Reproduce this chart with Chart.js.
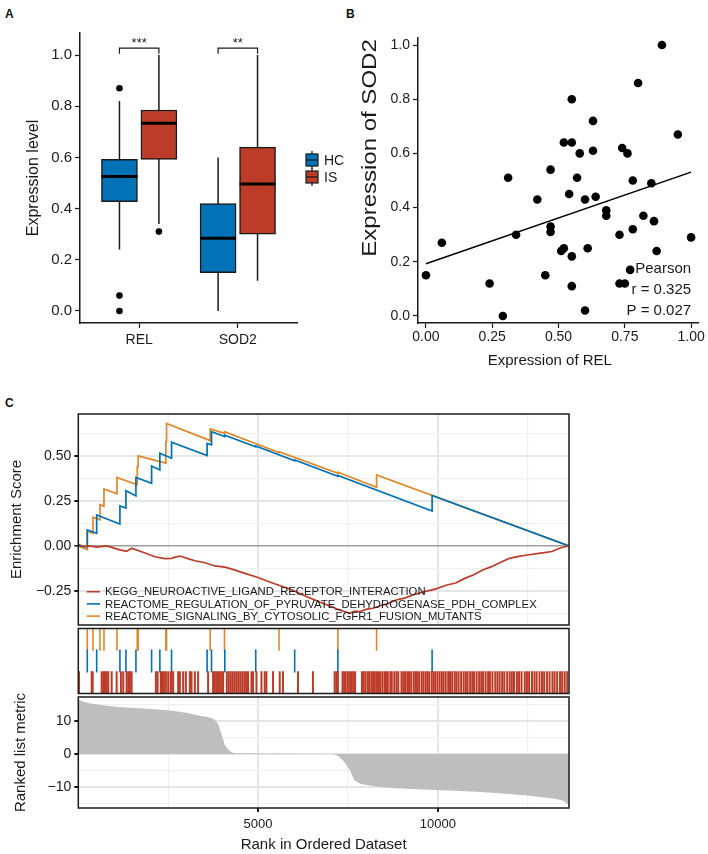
<!DOCTYPE html>
<html>
<head>
<meta charset="utf-8">
<script src="https://cdn.jsdelivr.net/npm/chart.js@4.4.1/dist/chart.umd.min.js"></script>
<style>
  body { margin: 0; background: #fff; width: 708px; height: 854px; position: relative; overflow: hidden;
         font-family: "Liberation Sans", Arial, Helvetica, sans-serif; }
  canvas { position: absolute; }
  .lab { position: absolute; font-weight: bold; font-size: 12px; line-height: 12px; color: #111; }
</style>
</head>
<body>
<div class="lab" style="left:5px;top:8px">A</div>
<div class="lab" style="left:346px;top:8px">B</div>
<div class="lab" style="left:5px;top:397px">C</div>

<canvas id="boxA" width="350" height="370" style="left:0;top:0"></canvas>
<canvas id="scatB" width="358" height="370" style="left:350px;top:0"></canvas>
<canvas id="esC" width="708" height="226" style="left:0;top:400px"></canvas>
<canvas id="hitC" width="708" height="92" style="left:0;top:615px"></canvas>
<canvas id="rankC" width="708" height="167" style="left:0;top:687px"></canvas>

<script>
// ---------- panel A : boxplots ----------
const genes = ['REL', 'SOD2'];
const groups = ['HC', 'IS'];
const hcLow  = [0.24, 0.0];
const hcQ1   = [0.427, 0.15];
const hcMed  = [0.525, 0.284];
const hcQ3   = [0.592, 0.42];
const hcHigh = [0.82, 0.6];
const isLow  = [0.34, 0.118];
const isQ1   = [0.592, 0.30];
const isMed  = [0.733, 0.496];
const isQ3   = [0.785, 0.64];
const isHigh = [1.0, 1.0];
const hcOutliers = [[0.87, 0.06, 0.0], []];
const isOutliers = [[0.31], []];
const sigLabels = ['***', '**'];
const yTicksA = [0, 0.2, 0.4, 0.6, 0.8, 1.0];

// ---------- panel B : scatter ----------
const relExpr = [0.00, 0.06, 0.24, 0.29, 0.31, 0.34, 0.42, 0.45, 0.47, 0.47, 0.47, 0.51, 0.52, 0.52, 0.55,
  0.55, 0.54, 0.55, 0.55, 0.57, 0.58, 0.60, 0.60, 0.61, 0.63, 0.63, 0.64, 0.68, 0.68, 0.73, 0.73, 0.75,
  0.74, 0.76, 0.77, 0.78, 0.78, 0.80, 0.82, 0.85, 0.86, 0.87, 0.89, 0.95, 1.00];
const sod2Expr = [0.15, 0.27, 0.12, 0.00, 0.51, 0.30, 0.43, 0.15, 0.54, 0.33, 0.31, 0.24, 0.25, 0.64, 0.64,
  0.80, 0.45, 0.22, 0.11, 0.51, 0.60, 0.43, 0.02, 0.25, 0.72, 0.61, 0.44, 0.39, 0.37, 0.30, 0.12, 0.12,
  0.62, 0.60, 0.17, 0.50, 0.32, 0.86, 0.37, 0.49, 0.35, 0.24, 1.00, 0.67, 0.29];
const fitX = [0, 1];
const fitY = [0.193, 0.531];
const statText = ['Pearson', 'r = 0.325', 'P = 0.027'];
const xTicksB = [0, 0.25, 0.5, 0.75, 1.0];
const yTicksB = [0, 0.2, 0.4, 0.6, 0.8, 1.0];

// ---------- panel C : GSEA ----------
const nGenes = 13650;
const setNames = ['KEGG_NEUROACTIVE_LIGAND_RECEPTOR_INTERACTION',
  'REACTOME_REGULATION_OF_PYRUVATE_DEHYDROGENASE_PDH_COMPLEX',
  'REACTOME_SIGNALING_BY_CYTOSOLIC_FGFR1_FUSION_MUTANTS'];
const keggRank = [0, 150, 278, 520, 789, 1000, 1158, 1344, 1483, 1800, 2131, 2408, 2594, 2700, 2825, 3050, 3242,
  3500, 3797, 4075, 4300, 4631, 5000, 5417, 5900, 6344, 6800, 7269, 7547, 7700, 7825, 8000, 8194, 8472, 8600,
  8844, 9100, 9306, 9631, 9950, 10253, 10500, 10750, 11000, 11247, 11492, 11750, 11992, 12250, 12492, 12864,
  13175, 13422, 13650];
const keggES = [0.01, -0.004, 0.0, -0.006, 0.0, -0.012, -0.022, -0.03, -0.013, -0.035, -0.06, -0.07, -0.069,
  -0.062, -0.056, -0.07, -0.082, -0.092, -0.111, -0.118, -0.13, -0.152, -0.175, -0.207, -0.24, -0.281, -0.318,
  -0.356, -0.374, -0.362, -0.365, -0.352, -0.346, -0.328, -0.322, -0.30, -0.288, -0.272, -0.254, -0.238,
  -0.217, -0.206, -0.18, -0.16, -0.133, -0.115, -0.09, -0.069, -0.058, -0.05, -0.04, -0.031, -0.01, 0.0];
const pdhHits = [250, 511, 1158, 1325, 1603, 2039, 2269, 2594, 3583, 3706, 4075, 4936, 6019, 7222, 9842];
const pdhBefore = [-0.005, 0.07, 0.122, 0.21, 0.278, 0.348, 0.422, 0.487, 0.502, 0.562, 0.608, 0.551, 0.473, 0.387, 0.194];
const pdhAfter = [0.089, 0.172, 0.222, 0.307, 0.38, 0.444, 0.515, 0.576, 0.57, 0.635, 0.615, 0.556, 0.478, 0.392, 0.28];
const fgfrHits = [250, 408, 603, 714, 1075, 1640, 1665, 2436, 2455, 3669, 4067, 5583, 7222, 8297];
const fgfrBefore = [-0.02, 0.07, 0.145, 0.22, 0.29, 0.34, 0.44, 0.46, 0.58, 0.585, 0.626, 0.519, 0.404, 0.326];
const fgfrAfter = [0.08, 0.16, 0.23, 0.317, 0.38, 0.44, 0.50, 0.58, 0.68, 0.65, 0.635, 0.523, 0.41, 0.394];
const keggHits = [20, 372, 400, 650, 694, 742, 789, 833, 928, 1067, 1186, 1250, 1344, 1389, 1436, 1483,
  2158, 2206, 2297, 2333, 2381, 2436, 2500, 2567, 2594, 2639, 2778, 2825, 2917, 2992, 3103, 3150, 3242, 3333,
  3611, 3750, 3797, 3844, 3889, 3936, 3983, 4028, 4131, 4186, 4242, 4297, 4353, 4408, 4464, 4519, 4575, 4631,
  4678, 4722, 4817, 4861, 4956, 5095, 5186, 5233, 5417, 5603, 5694, 6111, 6528, 7131, 7178, 7222,
  7350, 7395, 7440, 7500, 7560, 7610, 7660, 7700, 7890, 7940, 7990, 8050, 8090, 8150, 8200, 8250, 8310, 8360,
  8400, 8460, 8520, 8560, 8610, 8680, 8720, 8790, 8850, 8900, 8990, 9040, 9090, 9150, 9200, 9260, 9330, 9380,
  9420, 9480, 9550, 9600, 9660, 9710, 9760, 9830, 9880, 9930, 9990, 10050, 10110, 10160, 10220, 10290, 10340,
  10400, 10470, 10520, 10580, 10650, 10720, 10780, 10830, 10900, 10960, 11010, 11080, 11150, 11210, 11260,
  11330, 11400, 11450, 11520, 11600, 11660, 11720, 11790, 11850, 11930, 12000, 12060, 12120, 12200, 12260,
  12330, 12420, 12480, 12540, 12620, 12690, 12750, 12830, 12900, 12960, 13040, 13110, 13190, 13250, 13320,
  13400, 13460, 13530, 13600];
const metricRank = [0, 100, 350, 700, 1110, 1800, 2500, 3000, 3380, 3600, 3760, 3890, 3975, 4030, 4075, 4200,
  4325, 7100, 7250, 7350, 7450, 7550, 7670, 7800, 7925, 8300, 8810, 9600, 10450, 11100, 11710, 12400, 12980,
  13300, 13480, 13600, 13650];
const metricValue = [16.6, 16.0, 15.3, 14.8, 14.3, 13.8, 13.3, 12.5, 11.6, 11.2, 10.7, 9.2, 6.2, 4.5, 2.7, 1.0,
  0.2, 0, -0.8, -1.8, -3.2, -4.8, -7.8, -8.8, -9.3, -9.9, -10.4, -10.8, -11.2, -11.5, -11.9, -12.5, -13.2,
  -13.7, -14.2, -15.0, -15.9];
const rankTicks = [2500, 5000, 7500, 10000, 12500];
const rankMajor = [5000, 10000];
const esTicks = [-0.375, -0.25, -0.125, 0, 0.125, 0.25, 0.375, 0.5, 0.625];
const esMajor = [-0.25, 0, 0.25, 0.5];
const metricTicks = [-15, -10, -5, 0, 5, 10, 15];
const metricMajor = [-10, 0, 10];

const RED = '#BC3C29', BLUE = '#0072B5', ORANGE = '#E18727', INK = '#1a1a1a';
const FONT = '"Liberation Sans", Arial, sans-serif';

Chart.defaults.font.family = '"Liberation Sans", Arial, Helvetica, sans-serif';
Chart.defaults.color = INK;
Chart.defaults.animation = false;
Chart.defaults.responsive = false;
Chart.defaults.plugins.legend.display = false;
Chart.defaults.plugins.tooltip.enabled = false;

const fmt = (v, d) => (v < 0 ? '\u2212' : '') + Math.abs(v).toFixed(d);
const setTicks = vals => axis => { axis.ticks = vals.map(v => ({ value: v })); };
// fixed axis size, no extra label padding eating into the plot area
const fixW = w => a => { a.width = w; a.paddingTop = 0; a.paddingBottom = 0; };
const fixH = h => a => { a.height = h; a.paddingLeft = 0; a.paddingRight = 0; };

// ===== A =====
const dodge = 0.2;
const boxExtras = {
  id: 'boxExtras',
  beforeDatasetsDraw(chart) {
    const { ctx, scales: { y } } = chart;
    chart.data.datasets.forEach((ds, di) => {
      if (!ds.stats) return;
      chart.getDatasetMeta(di).data.forEach((bar, i) => {
        ctx.save();
        ctx.strokeStyle = INK; ctx.lineWidth = 1.5;
        ctx.beginPath();
        ctx.moveTo(bar.x, y.getPixelForValue(ds.stats.low[i]));
        ctx.lineTo(bar.x, y.getPixelForValue(ds.stats.high[i]));
        ctx.stroke();
        ctx.restore();
      });
    });
  },
  afterDatasetsDraw(chart) {
    const { ctx, scales: { x, y } } = chart;
    chart.data.datasets.forEach((ds, di) => {
      if (!ds.stats) return;
      chart.getDatasetMeta(di).data.forEach((bar, i) => {
        const py = y.getPixelForValue(ds.stats.med[i]);
        ctx.save();
        ctx.strokeStyle = '#000'; ctx.lineWidth = 3;
        ctx.beginPath();
        ctx.moveTo(bar.x - bar.width / 2, py);
        ctx.lineTo(bar.x + bar.width / 2, py);
        ctx.stroke();
        ctx.restore();
      });
    });
    // significance brackets
    ctx.save();
    ctx.strokeStyle = INK; ctx.lineWidth = 1.2; ctx.fillStyle = INK;
    ctx.font = '13px ' + FONT;
    ctx.textAlign = 'center'; ctx.textBaseline = 'bottom';
    genes.forEach((g, i) => {
      const x1 = x.getPixelForValue(i + 1 - dodge), x2 = x.getPixelForValue(i + 1 + dodge);
      const yt = y.getPixelForValue(1.027), yb = y.getPixelForValue(1.005);
      ctx.beginPath();
      ctx.moveTo(x1, yb); ctx.lineTo(x1, yt); ctx.lineTo(x2, yt); ctx.lineTo(x2, yb);
      ctx.stroke();
      ctx.fillText(sigLabels[i], (x1 + x2) / 2, yt + 2);
    });
    // legend
    const a = chart.chartArea;
    [BLUE, RED].forEach((col, k) => {
      const cx = a.right + 15, cy = 160 + k * 17;
      ctx.beginPath();
      ctx.moveTo(cx, cy - 9); ctx.lineTo(cx, cy + 9); ctx.stroke();
      ctx.fillStyle = col;
      ctx.fillRect(cx - 6, cy - 6, 12, 12);
      ctx.strokeRect(cx - 6, cy - 6, 12, 12);
      ctx.beginPath(); ctx.moveTo(cx - 6, cy); ctx.lineTo(cx + 6, cy); ctx.stroke();
      ctx.fillStyle = INK;
      ctx.font = '14px ' + FONT;
      ctx.textAlign = 'left'; ctx.textBaseline = 'middle';
      ctx.fillText(groups[k], cx + 12, cy + 1);
    });
    ctx.restore();
  }
};

const outlierPts = [];
genes.forEach((g, i) => {
  hcOutliers[i].forEach(v => outlierPts.push({ x: i + 1 - dodge, y: v }));
  isOutliers[i].forEach(v => outlierPts.push({ x: i + 1 + dodge, y: v }));
});

new Chart(document.getElementById('boxA'), {
  type: 'bar',
  data: {
    datasets: [
      { label: 'HC', data: genes.map((g, i) => ({ x: i + 1 - dodge, y: [hcQ1[i], hcQ3[i]] })),
        stats: { low: hcLow, med: hcMed, high: hcHigh },
        backgroundColor: BLUE, borderColor: INK, borderWidth: 1.5, borderSkipped: false,
        barThickness: 36, grouped: false },
      { label: 'IS', data: genes.map((g, i) => ({ x: i + 1 + dodge, y: [isQ1[i], isQ3[i]] })),
        stats: { low: isLow, med: isMed, high: isHigh },
        backgroundColor: RED, borderColor: INK, borderWidth: 1.5, borderSkipped: false,
        barThickness: 36, grouped: false },
      { type: 'scatter', label: 'outliers', data: outlierPts, pointRadius: 3.3,
        backgroundColor: '#000', borderWidth: 0 }
    ]
  },
  options: {
    layout: { padding: { left: 20, right: 53, top: 33, bottom: 17 } },
    scales: {
      x: { type: 'linear', offset: false, min: 0.4, max: 2.6, afterBuildTicks: setTicks([1, 2]),
           afterFit: fixH(30),
           ticks: { callback: v => genes[Math.round(v) - 1], font: { size: 14 }, padding: 4, autoSkip: false },
           grid: { drawOnChartArea: false, offset: false, tickLength: 5, tickColor: INK, tickWidth: 1.2 },
           border: { color: INK, width: 1.5 } },
      y: { min: -0.047, max: 1.086, afterBuildTicks: setTicks(yTicksA),
           afterFit: fixW(60),
           ticks: { callback: v => v.toFixed(1), font: { size: 15 }, padding: 3, autoSkip: false },
           grid: { drawOnChartArea: false, tickLength: 5, tickColor: INK, tickWidth: 1.2 },
           border: { color: INK, width: 1.5 },
           title: { display: true, text: 'Expression level', font: { size: 16 }, padding: { top: 4, bottom: 0 } } }
    }
  },
  plugins: [boxExtras]
});

// ===== B =====
const bExtras = {
  id: 'bExtras',
  afterDraw(chart) {
    const { ctx, scales: { x, y } } = chart;
    ctx.save();
    ctx.fillStyle = INK;
    ctx.font = '15px ' + FONT;
    ctx.textAlign = 'right'; ctx.textBaseline = 'middle';
    [0.173, 0.096, 0.018].forEach((yy, i) => {
      ctx.fillText(statText[i], x.getPixelForValue(1.0), y.getPixelForValue(yy));
    });
    // axis titles
    ctx.textAlign = 'center';
    ctx.fillText('Expression of REL', x.getPixelForValue(0.467), 361);
    ctx.translate(20, y.getPixelForValue(0.62));
    ctx.rotate(-Math.PI / 2);
    ctx.scale(1.2, 1);
    ctx.font = '20px ' + FONT;
    ctx.fillText('Expression of SOD2', 0, 0);
    ctx.restore();
  }
};

new Chart(document.getElementById('scatB'), {
  type: 'scatter',
  data: {
    datasets: [
      { label: 'samples', data: relExpr.map((v, i) => ({ x: v, y: sod2Expr[i] })),
        pointRadius: 4.3, backgroundColor: '#000', borderWidth: 0 },
      { type: 'line', label: 'fit', data: fitX.map((v, i) => ({ x: v, y: fitY[i] })),
        borderColor: '#000', borderWidth: 1.5, pointRadius: 0, fill: false }
    ]
  },
  options: {
    layout: { padding: { left: 6, right: 10, top: 38, bottom: 0 } },
    scales: {
      x: { type: 'linear', min: -0.030, max: 1.026, afterBuildTicks: setTicks(xTicksB),
           afterFit: fixH(47),
           ticks: { callback: v => v.toFixed(2), font: { size: 14 }, padding: 1, autoSkip: false },
           grid: { drawOnChartArea: false, tickLength: 5, tickColor: INK, tickWidth: 1.2 },
           border: { color: INK, width: 1.5 } },
      y: { min: -0.026, max: 1.026, afterBuildTicks: setTicks(yTicksB),
           afterFit: fixW(62),
           ticks: { callback: v => v.toFixed(1), font: { size: 14 }, padding: 3, autoSkip: false },
           grid: { drawOnChartArea: false, tickLength: 5, tickColor: INK, tickWidth: 1.2 },
           border: { color: INK, width: 1.5 } }
    }
  },
  plugins: [bExtras]
});

// ===== C =====
const framePlugin = {
  id: 'frame',
  afterDraw(chart) {
    const { ctx, chartArea: a } = chart;
    ctx.save();
    ctx.strokeStyle = INK; ctx.lineWidth = 1.5;
    ctx.strokeRect(a.left, a.top, a.right - a.left, a.bottom - a.top);
    ctx.restore();
  }
};
const esLegend = {
  id: 'esLegend',
  afterDraw(chart) {
    const { ctx, chartArea: a } = chart;
    ctx.save();
    ctx.font = '11.3px ' + FONT;
    ctx.textAlign = 'left'; ctx.textBaseline = 'middle';
    chart.data.datasets.forEach((ds, i) => {
      const yy = a.bottom - 33.3 + i * 12.2;
      ctx.strokeStyle = ds.borderColor; ctx.lineWidth = 1.6;
      ctx.beginPath(); ctx.moveTo(a.left + 8.4, yy); ctx.lineTo(a.left + 21.7, yy); ctx.stroke();
      ctx.fillStyle = INK;
      ctx.fillText(ds.label, a.left + 26.7, yy + 0.5);
    });
    ctx.restore();
  }
};

function stepCurve(hits, before, after) {
  const pts = [{ x: 0, y: 0 }];
  hits.forEach((r, i) => { pts.push({ x: r, y: before[i] }); pts.push({ x: r, y: after[i] }); });
  pts.push({ x: nGenes, y: 0 });
  return pts;
}
const rankGridColor = c => rankMajor.includes(c.tick.value) ? '#E6E6E6' : '#F1F1F1';
const rankGridWidth = c => rankMajor.includes(c.tick.value) ? 2 : 1.2;

new Chart(document.getElementById('esC'), {
  type: 'line',
  data: {
    datasets: [
      { label: setNames[0], data: keggRank.map((r, i) => ({ x: r, y: keggES[i] })), borderColor: RED },
      { label: setNames[1], data: stepCurve(pdhHits, pdhBefore, pdhAfter), borderColor: BLUE },
      { label: setNames[2], data: stepCurve(fgfrHits, fgfrBefore, fgfrAfter), borderColor: ORANGE }
    ]
  },
  options: {
    elements: { line: { borderWidth: 1.7, tension: 0 }, point: { radius: 0 } },
    layout: { padding: { left: 0, right: 139, top: 14, bottom: 1 } },
    scales: {
      x: { type: 'linear', min: 0, max: nGenes, afterBuildTicks: setTicks(rankTicks),
           afterFit: fixH(0),
           ticks: { display: false, autoSkip: false },
           grid: { drawTicks: false, color: rankGridColor, lineWidth: rankGridWidth },
           border: { display: false } },
      y: { min: -0.439, max: 0.733, afterBuildTicks: setTicks(esTicks),
           afterFit: fixW(78.3),
           ticks: { callback: v => esMajor.includes(v) ? fmt(v, 2) : '', font: { size: 14 }, padding: 3, autoSkip: false },
           grid: { tickLength: 4,
                   tickColor: c => esMajor.includes(c.tick.value) ? INK : 'rgba(0,0,0,0)',
                   color: c => c.tick.value === 0 ? '#9E9E9E' : (esMajor.includes(c.tick.value) ? '#E6E6E6' : '#F1F1F1'),
                   lineWidth: c => c.tick.value === 0 ? 1.6 : (esMajor.includes(c.tick.value) ? 2 : 1.2) },
           border: { display: false },
           title: { display: true, text: 'Enrichment Score', font: { size: 15 }, padding: { top: 8, bottom: 0 } } }
    }
  },
  plugins: [framePlugin, esLegend]
});

const hitRows = [
  { hits: keggHits, row: 0.5, color: RED, width: 2 },
  { hits: pdhHits, row: 1.5, color: BLUE, width: 1.6 },
  { hits: fgfrHits, row: 2.5, color: ORANGE, width: 1.6 }
];
new Chart(document.getElementById('hitC'), {
  type: 'scatter',
  data: {
    datasets: hitRows.map((h, i) => ({
      label: setNames[i],
      data: h.hits.map(r => ({ x: r, y: h.row })),
      pointStyle: 'line', pointRotation: 90, pointRadius: 11.5,
      pointBorderColor: h.color, borderColor: h.color, pointBorderWidth: h.width, borderWidth: h.width
    }))
  },
  options: {
    layout: { padding: { left: 78.3, right: 139, top: 10, bottom: 10 } },
    scales: {
      x: { type: 'linear', display: false, min: 0, max: nGenes },
      y: { display: false, min: 0, max: 3 }
    }
  },
  plugins: [framePlugin]
});

new Chart(document.getElementById('rankC'), {
  type: 'line',
  data: {
    datasets: [{ label: 'metric', data: metricRank.map((r, i) => ({ x: r, y: metricValue[i] })),
      fill: 'origin', backgroundColor: '#BEBEBE', borderColor: 'rgba(0,0,0,0)', borderWidth: 0,
      pointRadius: 0, tension: 0 }]
  },
  options: {
    layout: { padding: { left: 0, right: 139, top: 10, bottom: 0 } },
    scales: {
      x: { type: 'linear', min: 0, max: nGenes, afterBuildTicks: setTicks(rankTicks),
           afterFit: fixH(46),
           ticks: { callback: v => rankMajor.includes(v) ? String(v) : '', font: { size: 13 }, padding: 5,
                    maxRotation: 0, autoSkip: false },
           grid: { tickLength: 4, color: rankGridColor, lineWidth: rankGridWidth,
                   tickColor: c => rankMajor.includes(c.tick.value) ? INK : 'rgba(0,0,0,0)' },
           border: { display: false },
           title: { display: true, text: 'Rank in Ordered Dataset', font: { size: 15 }, padding: { top: 0, bottom: 0 } } },
      y: { min: -16.4, max: 17.3, afterBuildTicks: setTicks(metricTicks),
           afterFit: fixW(78.3),
           ticks: { callback: v => metricMajor.includes(v) ? fmt(v, 0) : '', font: { size: 14 }, padding: 3, autoSkip: false },
           grid: { tickLength: 4,
                   tickColor: c => metricMajor.includes(c.tick.value) ? INK : 'rgba(0,0,0,0)',
                   color: c => metricMajor.includes(c.tick.value) ? '#E6E6E6' : '#F1F1F1',
                   lineWidth: c => metricMajor.includes(c.tick.value) ? 2 : 1.2 },
           border: { display: false },
           title: { display: true, text: 'Ranked list metric', font: { size: 15 }, padding: { top: 12, bottom: 0 } } }
    }
  },
  plugins: [framePlugin]
});
</script>
</body>
</html>
